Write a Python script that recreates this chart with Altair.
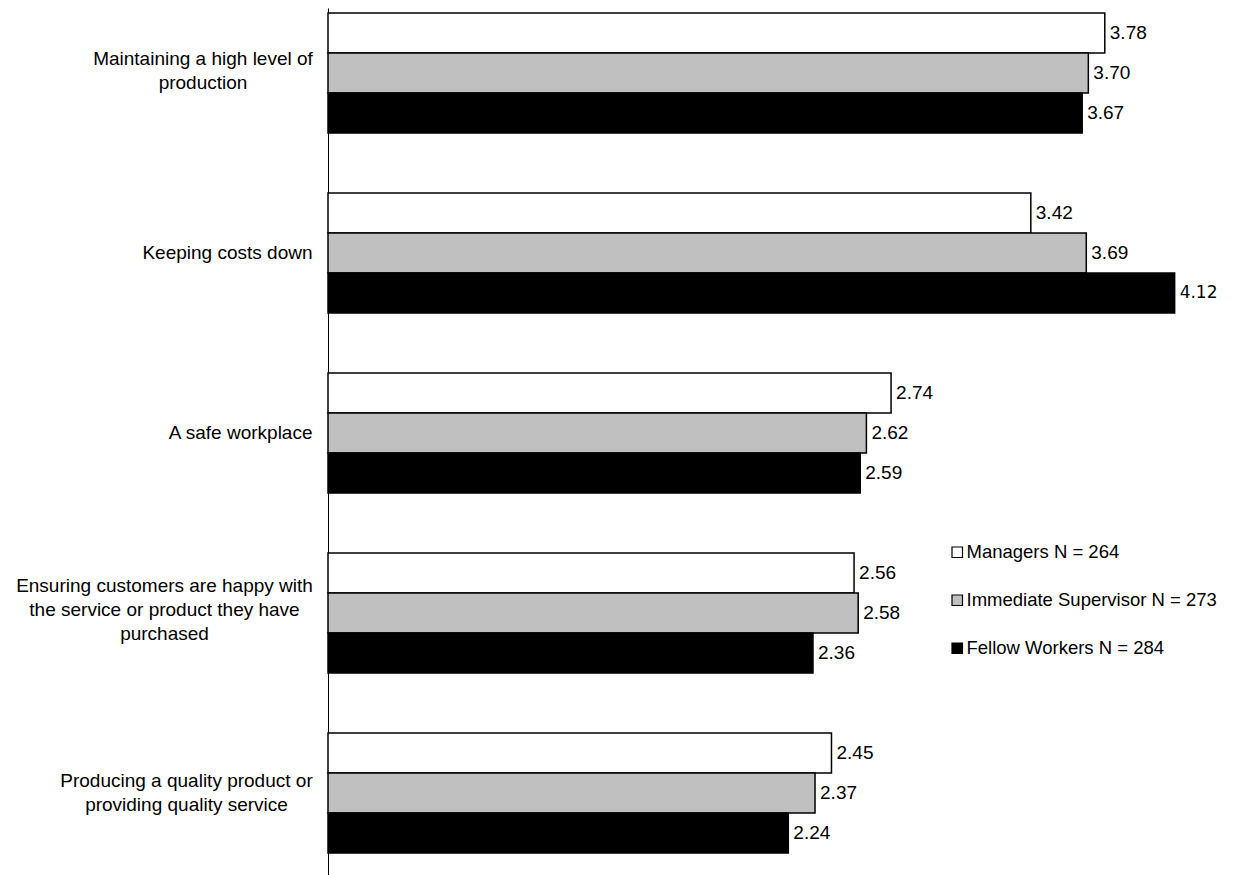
import altair as alt
import pandas as pd

categories = [
    "Maintaining a high level of|production",
    "Keeping costs down",
    "A safe workplace",
    "Ensuring customers are happy with|the service or product they have|purchased",
    "Producing a quality product or|providing quality service",
]
series = ["Managers N = 264", "Immediate Supervisor N = 273", "Fellow Workers N = 284"]
managers = [3.78, 3.42, 2.74, 2.56, 2.45]
supervisor = [3.70, 3.69, 2.62, 2.58, 2.37]
fellow = [3.67, 4.12, 2.59, 2.36, 2.24]
colors = ["#FFFFFF", "#C0C0C0", "#000000"]

rows = []
for i, c in enumerate(categories):
    for s, vals in zip(series, [managers, supervisor, fellow]):
        rows.append({"category": c, "series": s, "value": vals[i]})
df = pd.DataFrame(rows)

FONT = "Liberation Sans"

# style: multi-line labels are centred line by line, like the original
c1, c4, c5 = categories[0], categories[3], categories[4]
t1 = f"datum.value == '{c1}'"
t4 = f"datum.value == '{c4}'"
t5 = f"datum.value == '{c5}'"

y = alt.Y("category:N", sort=categories,
          scale=alt.Scale(paddingInner=0.333, paddingOuter=0.075, align=0.185),
          axis=alt.Axis(title=None, ticks=False, domainColor="black", domainWidth=1,
                        labelExpr="split(datum.label, '|')", labelFont=FONT, labelFontSize=19,
                        labelColor="black", labelLineHeight=24, labelLimit=400,
                        labelAlign={"condition": [{"test": t1, "value": "center"},
                                                  {"test": t4, "value": "center"},
                                                  {"test": t5, "value": "center"}],
                                    "value": "right"},
                        labelPadding={"condition": [{"test": t1, "value": 125.5},
                                                    {"test": t4, "value": 164},
                                                    {"test": t5, "value": 142}],
                                      "value": 16},
                        labelOffset={"condition": [{"test": t1, "value": -14},
                                                   {"test": t4, "value": -27},
                                                   {"test": t5, "value": -12}],
                                     "value": 0}))
yoff = alt.YOffset("series:N", sort=series, scale=alt.Scale(paddingInner=0, paddingOuter=0))
x = alt.X("value:Q", scale=alt.Scale(domain=[0, 4.365], nice=False, zero=True), axis=None)

bars = alt.Chart(df).mark_bar(stroke="black", strokeWidth=1.5).encode(
    y=y, yOffset=yoff, x=x,
    fill=alt.Fill("series:N", sort=series,
                  scale=alt.Scale(domain=series, range=colors),
                  legend=alt.Legend(title=None, orient="none", legendX=620, legendY=535,
                                    symbolType="square", symbolSize=110,
                                    symbolStrokeColor="black", symbolStrokeWidth=1.2,
                                    labelFont=FONT, labelFontSize=18.5, labelColor="black",
                                    labelLimit=400, rowPadding=29, symbolOffset=0,
                                    labelOffset=0)),
)

text = alt.Chart(df).transform_filter("datum.value != 4.12").mark_text(
    align="left", baseline="middle", dx=5, font=FONT, fontSize=19, color="black").encode(
    y=alt.Y("category:N", sort=categories), yOffset=yoff, x=x,
    text=alt.Text("value:Q", format=".2f"),
)

text_wide = alt.Chart(df).transform_filter("datum.value == 4.12").mark_text(
    align="left", baseline="middle", dx=5, font="DejaVu Sans", fontSize=17, color="black").encode(
    y=alt.Y("category:N", sort=categories), yOffset=yoff, x=x,
    text=alt.Text("value:Q", format=".2f"),
)

chart = alt.layer(bars, text, text_wide).properties(
    width=897, height=867,
    background="white",
    autosize=alt.AutoSizeParams(type="none"),
    padding={"left": 320, "top": 0, "right": 0, "bottom": 0},
).configure_view(stroke=None)

chart.save("out.html", embed_options={"renderer": "svg", "actions": False})
